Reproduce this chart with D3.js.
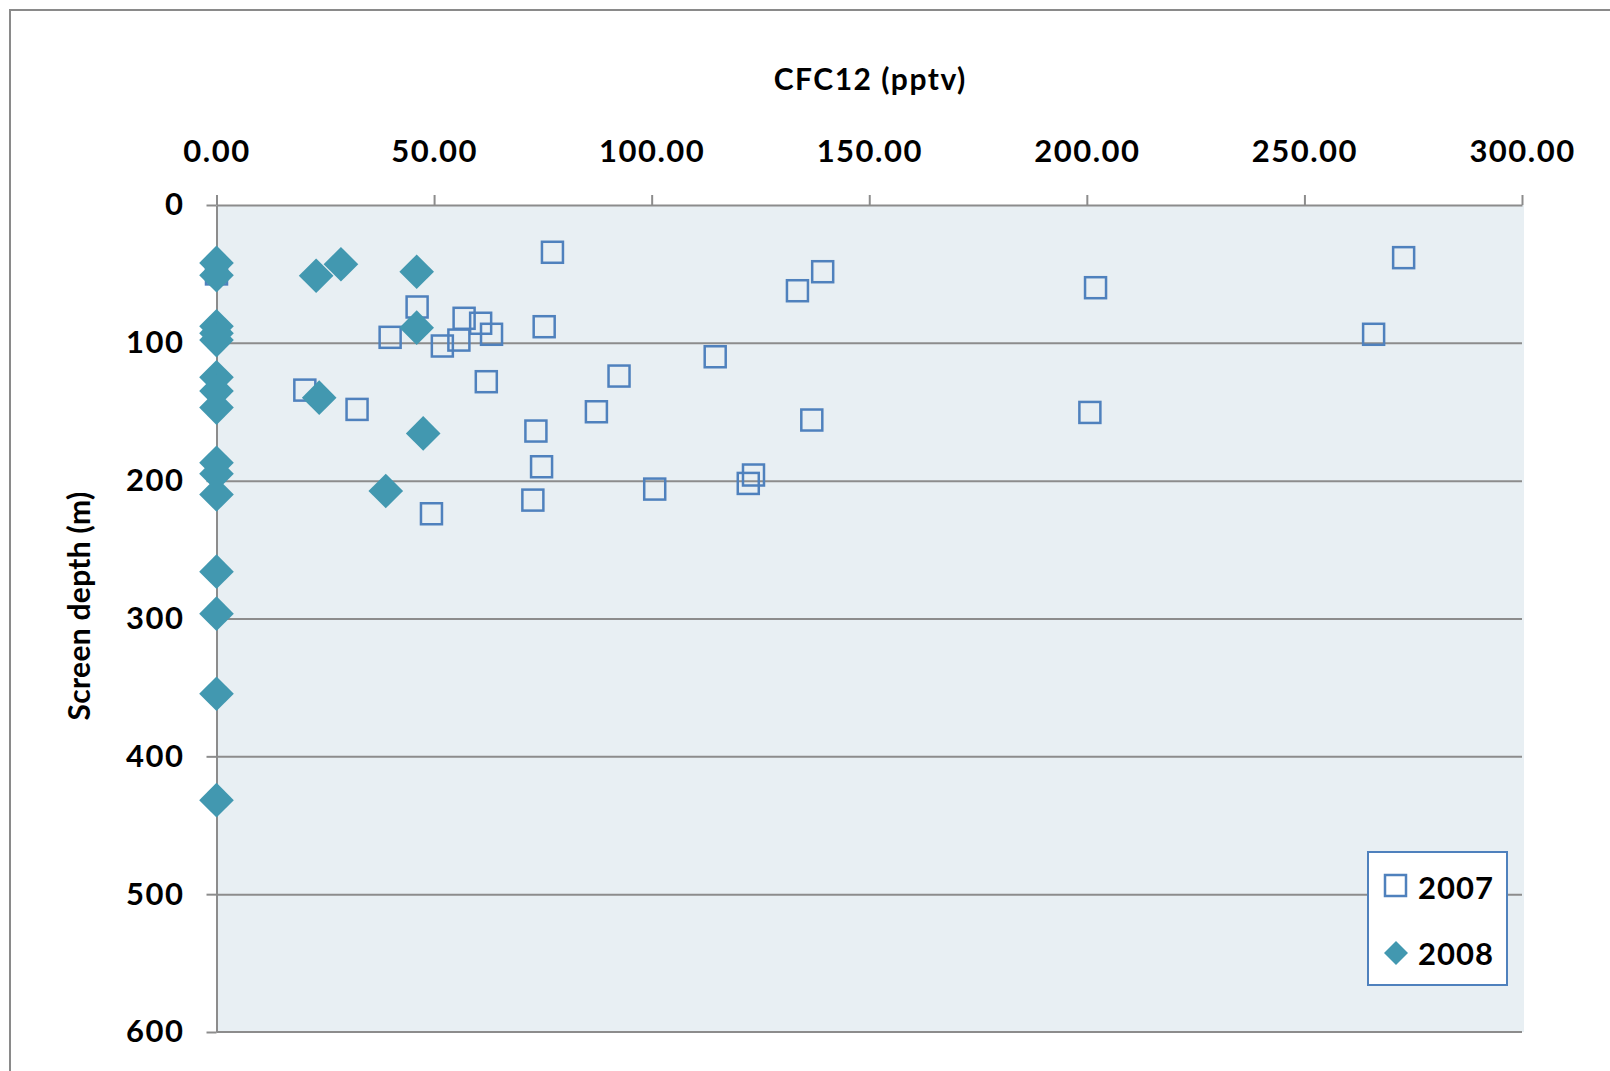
<!DOCTYPE html>
<html>
<head>
<meta charset="utf-8">
<script src="https://cdn.jsdelivr.net/npm/d3@7"></script>
<style>
  html, body { margin: 0; padding: 0; background: #ffffff; }
  svg { display: block; }
  text { font-family: "Lato", "Open Sans", sans-serif; font-weight: bold; fill: #000; }
</style>
</head>
<body>
<svg id="chart" width="1610" height="1071"></svg>
<script>
// ---- data ----
const series = ["2007", "2008"];

const cfc2007 = [77.2, 46.1, 56.9, 60.7, 63.2, 75.3, 39.9, 55.7, 51.9, 62.0,
                 20.3, 32.3, 73.4, 74.7, 72.7, 49.4, 0.0, 139.3, 133.5, 114.6,
                 92.5, 87.3, 136.8, 100.7, 123.4, 122.2, 272.8, 202.0, 265.9, 200.7];
const depth2007 = [34.3, 74.0, 82.2, 85.8, 93.8, 88.3, 96.0, 98.0, 102.3, 128.2,
                   134.3, 148.3, 164.0, 189.9, 214.1, 224.0, 50.0, 48.4, 62.2, 110.1,
                   124.1, 150.0, 156.0, 206.1, 195.9, 202.0, 38.2, 60.0, 93.8, 150.5];

const cfc2008 = [0, 0, 0, 0, 0, 0, 0, 0, 0, 0, 0, 0, 0, 0, 0,
                 22.9, 28.6, 46.0, 46.0, 23.6, 47.5, 38.9];
const depth2008 = [42, 51, 88, 93, 98, 125, 135, 147, 187, 195, 210, 266, 296.5, 354.6, 431.8,
                   51.3, 43.0, 48.4, 89.0, 139.8, 165.7, 207.5];

const xTicks = [0, 50, 100, 150, 200, 250, 300];
const yTicks = [0, 100, 200, 300, 400, 500, 600];

const xTitle = "CFC12 (pptv)";
const yTitle = "Screen depth (m)";

// ---- layout ----
const svg = d3.select("#chart");
const pL = 216.5, pR = 1522, pT = 205, pB = 1032;

const x = d3.scaleLinear().domain([0, 300]).range([pL, pR]);
const y = d3.scaleLinear().domain([0, 600]).range([pT, pB]);

// outer chart border
svg.append("rect")
  .attr("x", 10).attr("y", 10).attr("width", 1700).attr("height", 1200)
  .attr("fill", "#ffffff").attr("stroke", "#8a8a8a").attr("stroke-width", 2);

// plot area
svg.append("rect")
  .attr("x", pL).attr("y", pT).attr("width", pR - pL + 2).attr("height", pB - pT)
  .attr("fill", "#e8eff3");

// gridlines
svg.append("g")
  .attr("transform", `translate(${pL},0)`)
  .call(d3.axisLeft(y).tickValues(yTicks.filter(d => d > 0 && d < 600)).tickSize(-(pR - pL)).tickFormat(""))
  .call(g => g.select(".domain").remove())
  .call(g => g.selectAll("line").attr("stroke", "#8c8c8c").attr("stroke-width", 2));

const styleTickText = g => g.selectAll("text")
  .attr("font-size", 31).attr("font-family", "Lato").attr("font-weight", "bold")
  .attr("fill", "#000").attr("letter-spacing", 1.5);

// y axis
svg.append("g")
  .attr("transform", `translate(${pL},0)`)
  .call(d3.axisLeft(y).tickValues(yTicks).tickSize(10).tickSizeOuter(0).tickPadding(22))
  .call(g => g.select(".domain").attr("stroke", "#8c8c8c").attr("stroke-width", 2))
  .call(g => g.selectAll("line").attr("stroke", "#8c8c8c").attr("stroke-width", 2))
  .call(styleTickText);

// bottom line of plot (600 gridline)
svg.append("line")
  .attr("x1", pL).attr("x2", pR).attr("y1", y(600)).attr("y2", y(600))
  .attr("stroke", "#8c8c8c").attr("stroke-width", 2);

// x axis on top
svg.append("g")
  .attr("transform", `translate(0,${pT})`)
  .call(d3.axisTop(x).tickValues(xTicks).tickSize(10).tickSizeOuter(0).tickPadding(33).tickFormat(d3.format(".2f")))
  .call(g => g.select(".domain").attr("stroke", "#8c8c8c").attr("stroke-width", 2))
  .call(g => g.selectAll("line").attr("stroke", "#8c8c8c").attr("stroke-width", 2))
  .call(styleTickText);

// titles
svg.append("text")
  .attr("x", (pL + pR) / 2 + 1).attr("y", 90)
  .attr("text-anchor", "middle").attr("font-size", 30).attr("letter-spacing", 1.5)
  .text(xTitle);

svg.append("text")
  .attr("transform", `translate(90,606) rotate(-90)`)
  .attr("text-anchor", "middle").attr("font-size", 30).attr("letter-spacing", 0.3)
  .text(yTitle);

// markers
const sq = 21;
const pts2007 = cfc2007.map((v, i) => ({ v, d: depth2007[i] }));
const pts2008 = cfc2008.map((v, i) => ({ v, d: depth2008[i] }));

svg.append("g").selectAll("rect")
  .data(pts2007).join("rect")
  .attr("x", p => x(p.v) - sq / 2).attr("y", p => y(p.d) - sq / 2)
  .attr("width", sq).attr("height", sq)
  .attr("fill", "none").attr("stroke", "#4f81bd").attr("stroke-width", 2.5);

const diamond = d3.symbol().type(d3.symbolSquare).size(24.5 * 24.5);
svg.append("g").selectAll("path")
  .data(pts2008).join("path")
  .attr("d", diamond)
  .attr("transform", p => `translate(${x(p.v)},${y(p.d)}) rotate(45)`)
  .attr("fill", "#4298b0");

// legend
const lg = svg.append("g");
lg.append("rect")
  .attr("x", 1368).attr("y", 852).attr("width", 139).attr("height", 133)
  .attr("fill", "#ffffff").attr("stroke", "#4f81bd").attr("stroke-width", 2);
lg.append("rect")
  .attr("x", 1385).attr("y", 875).attr("width", 21).attr("height", 21)
  .attr("fill", "none").attr("stroke", "#4f81bd").attr("stroke-width", 2.5);
lg.append("path")
  .attr("d", d3.symbol().type(d3.symbolSquare).size(17 * 17))
  .attr("transform", "translate(1396,953) rotate(45)")
  .attr("fill", "#4298b0");
lg.selectAll("text.lgt").data(series).join("text")
  .attr("class", "lgt")
  .attr("x", 1418).attr("y", (d, i) => 899 + i * 66)
  .attr("font-size", 31).attr("letter-spacing", 1)
  .text(d => d);
</script>
</body>
</html>
